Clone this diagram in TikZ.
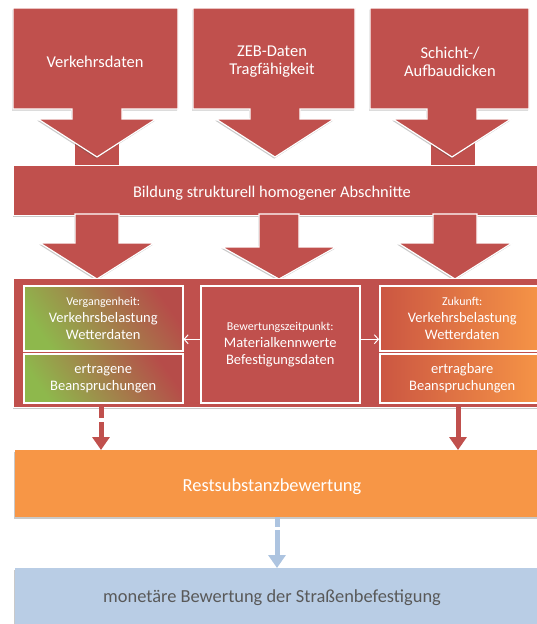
\documentclass[tikz,border=0pt]{standalone}
\usepackage{fontspec}
\setmainfont{Carlito}
\usetikzlibrary{shadows,arrows.meta}
\definecolor{rd}{HTML}{C0504D}
\definecolor{org}{HTML}{F79646}
\definecolor{orgdark}{HTML}{CB5642}
\definecolor{grn}{HTML}{8EB84C}
\definecolor{blu}{HTML}{B9CDE5}
\definecolor{bluarr}{HTML}{ADC4E0}
\definecolor{txtgray}{HTML}{595959}
\newcommand\topcallout[5]{% left right top bottom centre
  \path[redshape] (#1,#3) -- (#2,#3) -- (#2,#4) -- (#5+25,#4) -- (#5+25,#4+10)
    -- (#5+59,#4+10) -- (#5,#4+48) -- (#5-59,#4+10) -- (#5-25,#4+10)
    -- (#5-25,#4) -- (#1,#4) -- cycle;}
\newcommand\downarr[5]{% centre top headtop tip shafthalf
  \path[redshape] (#1-#5,#2) -- (#1+#5,#2) -- (#1+#5,#3) -- (#1+57,#3)
    -- (#1,#4) -- (#1-57,#3) -- (#1-#5,#3) -- cycle;}
\newcommand\smallline[1]{{\fontsize{12}{14}\selectfont #1}}
\begin{document}
\begin{tikzpicture}[x=1pt,y=-1pt,
  shd/.style={drop shadow={shadow xshift=-0.8pt,shadow yshift=-1.6pt,opacity=0.3,fill=black!70}},
  redshape/.style={fill=rd,draw=white,line width=1.2pt,shd},
  lbl/.style={text=white,align=center,inner sep=0pt},
  bigbox/.style={anchor=north west,inner sep=0pt,shd},
  innerbox/.style={anchor=north west,inner sep=0pt,draw=white,line width=1.5pt,
    text=white,align=center,font=\fontsize{14.5}{17}\selectfont},
  redarr/.style={draw=rd,line width=5pt,-{Triangle[width=17pt,length=13pt]}},
  thinarr/.style={draw=white,line width=1pt,-{Straight Barb[length=4pt,width=9pt]}}
]
\useasboundingbox (0,0) rectangle (536,624);

% shafts behind the top callout heads
\path[fill=rd] (75,128) rectangle (119,167);
\path[fill=rd] (431,128) rectangle (475,167);

% top callouts
\topcallout{13}{178}{8}{109}{97}
\topcallout{193}{355}{8}{109}{275}
\topcallout{370}{529}{8}{109}{452}
\node[lbl,font=\fontsize{16.5}{18}\selectfont] (verk) at (95,62) {Verkehrsdaten};
\node[lbl,font=\fontsize{16.5}{18}\selectfont] (zeb) at (272,62) {ZEB-Daten\\Tragfähigkeit};
\node[lbl,font=\fontsize{16.5}{18}\selectfont] (schicht) at (450,62) {Schicht-/\\Aufbaudicken};

% Bildung box
\node[bigbox,fill=rd,draw=white,line width=1.2pt,minimum width=532pt,minimum height=50pt] (bild) at (13,165) {};
\node[lbl,font=\fontsize{16.4}{19}\selectfont] (bildtxt) at (272,193) {Bildung strukturell homogener Abschnitte};

% arrows below Bildung
\downarr{97}{214}{243}{279}{22}
\downarr{279}{214}{247}{279}{20}
\downarr{455}{214}{243}{279}{22}

% container
\node[bigbox,fill=rd,draw=white,line width=1.2pt,minimum width=532pt,minimum height=129pt] (cont) at (13,278) {};

% inner boxes
\node[innerbox,top color=grn,bottom color=rd!95!black,shading angle=125,
  minimum width=159pt,minimum height=65pt] (verg) at (23,285)
  {\smallline{Vergangenheit:}\\Verkehrsbelastung\\Wetterdaten};
\node[innerbox,top color=grn,bottom color=rd!95!black,shading angle=125,
  minimum width=159pt,minimum height=49pt] (ertr) at (23,353)
  {ertragene\\Beanspruchungen};
\node[innerbox,fill=rd,minimum width=159pt,minimum height=117pt] (mid) at (200,285)
  {\smallline{Bewertungszeitpunkt:}\\Materialkennwerte\\Befestigungsdaten};
\node[innerbox,left color=orgdark,right color=org,
  minimum width=165pt,minimum height=65pt] (zuk) at (379,285)
  {\smallline{Zukunft:}\\Verkehrsbelastung\\Wetterdaten};
\node[innerbox,left color=orgdark,right color=org,
  minimum width=165pt,minimum height=49pt] (ertb) at (379,353)
  {ertragbare\\Beanspruchungen};

% thin white arrows
\draw[thinarr] ([yshift=5pt]mid.west) -- ([yshift=5pt]mid.west -| verg.east);
\draw[thinarr] ([yshift=5pt]mid.east) -- ([yshift=5pt]mid.east -| zuk.west);

% Restsubstanz box
\node[bigbox,fill=org,minimum width=530pt,minimum height=67pt] (rest) at (15,450) {};
\node[lbl,font=\fontsize{18.4}{21}\selectfont] (resttxt) at (272,487) {Restsubstanzbewertung};

% blue box
\node[bigbox,fill=blu,minimum width=530pt,minimum height=60pt] (mon) at (15,568) {};
\node[lbl,text=txtgray,font=\fontsize{18.4}{21}\selectfont] (montxt) at (272,598) {monetäre Bewertung der Straßenbefestigung};

% connectors
\coordinate (la) at (101,407);
\coordinate (ra) at (458,407);
\coordinate (ba) at (277,517);
\draw[redarr,dash pattern=on 11pt off 4pt on 30pt] (la) -- (la |- rest.north);
\draw[redarr] (ra) -- (ra |- rest.north);
\draw[draw=bluarr,line width=5pt,dash pattern=on 10pt off 3pt on 30pt,
  -{Triangle[width=17pt,length=13pt]}] (ba) -- (ba |- mon.north);
\end{tikzpicture}
\end{document}
